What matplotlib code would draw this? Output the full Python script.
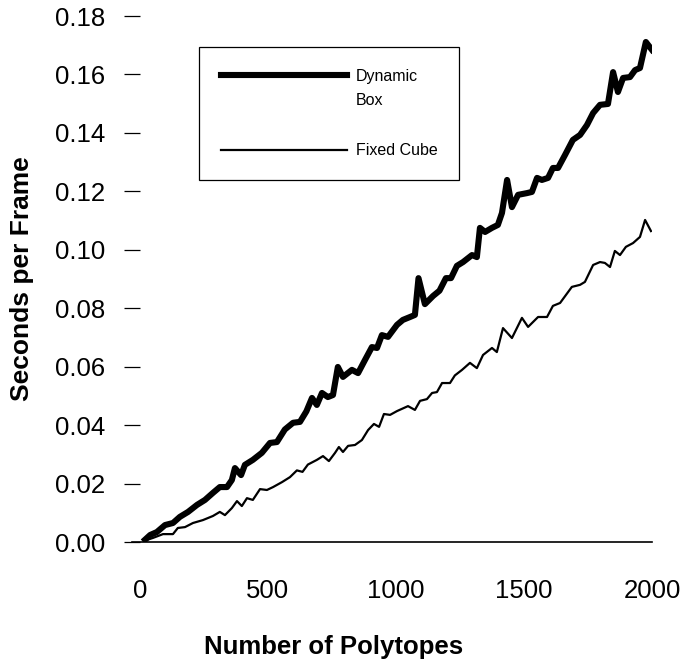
import numpy as np
import matplotlib
matplotlib.use("Agg")
import matplotlib.pyplot as plt
from matplotlib.lines import Line2D

plt.rcParams['font.family'] = ['Liberation Sans', 'DejaVu Sans']

# Dynamic Box timings (seconds per frame)
dynamic_n = [20, 40, 66, 98, 129, 156, 188, 223, 254, 285, 312, 340, 359, 371, 395,
             410, 441, 476, 508, 535, 566, 598, 625, 650, 672, 691, 711, 734, 754,
             773, 793, 828, 852, 879, 906, 926, 945, 969, 1004, 1027, 1055, 1074,
             1088, 1113, 1145, 1170, 1195, 1215, 1238, 1262, 1297, 1316, 1328, 1348,
             1375, 1398, 1414, 1434, 1453, 1477, 1512, 1531, 1551, 1570, 1594, 1613,
             1633, 1660, 1691, 1719, 1746, 1770, 1797, 1828, 1848, 1867, 1887, 1914,
             1934, 1953, 1976, 2000]
dynamic_t = [0.0008, 0.0024, 0.0034, 0.0058, 0.0065, 0.0086, 0.0103, 0.0127, 0.0144,
             0.0168, 0.0188, 0.0188, 0.0212, 0.0253, 0.0229, 0.0264, 0.0281, 0.0305,
             0.0339, 0.0342, 0.0385, 0.0408, 0.0411, 0.0447, 0.0493, 0.0469, 0.0510,
             0.0496, 0.0503, 0.0599, 0.0565, 0.0589, 0.0578, 0.0623, 0.0667, 0.0664,
             0.0708, 0.0702, 0.0743, 0.0760, 0.0770, 0.0777, 0.0903, 0.0814, 0.0842,
             0.0860, 0.0903, 0.0903, 0.0945, 0.0958, 0.0982, 0.0975, 0.1075, 0.1061,
             0.1075, 0.1085, 0.1126, 0.1239, 0.1146, 0.1188, 0.1194, 0.1198, 0.1246,
             0.1239, 0.1246, 0.1280, 0.1280, 0.1324, 0.1376, 0.1393, 0.1427, 0.1468,
             0.1496, 0.1499, 0.1608, 0.1540, 0.1588, 0.1591, 0.1615, 0.1622, 0.1711,
             0.1684]

# Fixed Cube timings
fixed_n = [20, 51, 90, 129, 148, 176, 207, 246, 285, 312, 332, 359, 379, 398, 418,
           441, 469, 496, 520, 555, 586, 613, 635, 656, 691, 715, 738, 762, 777, 793,
           813, 840, 867, 891, 914, 934, 953, 977, 1004, 1047, 1074, 1094, 1121, 1141,
           1160, 1180, 1211, 1230, 1258, 1289, 1316, 1340, 1375, 1394, 1418, 1453,
           1492, 1516, 1555, 1590, 1613, 1641, 1687, 1719, 1738, 1770, 1797, 1816,
           1836, 1855, 1875, 1898, 1926, 1953, 1973, 1996]
fixed_t = [0.0005, 0.0014, 0.0027, 0.0027, 0.0048, 0.0051, 0.0065, 0.0075, 0.0089,
           0.0103, 0.0092, 0.0116, 0.0140, 0.0123, 0.0150, 0.0144, 0.0181, 0.0178,
           0.0188, 0.0205, 0.0222, 0.0245, 0.0240, 0.0265, 0.0281, 0.0294, 0.0277,
           0.0305, 0.0325, 0.0308, 0.0329, 0.0332, 0.0349, 0.0383, 0.0404, 0.0394,
           0.0438, 0.0435, 0.0448, 0.0465, 0.0452, 0.0483, 0.0489, 0.0510, 0.0513,
           0.0544, 0.0544, 0.0570, 0.0589, 0.0613, 0.0595, 0.0640, 0.0664, 0.0650,
           0.0732, 0.0698, 0.0767, 0.0736, 0.0770, 0.0770, 0.0808, 0.0818, 0.0873,
           0.0880, 0.0890, 0.0948, 0.0958, 0.0955, 0.0941, 0.0996, 0.0982, 0.1010,
           0.1023, 0.1044, 0.1102, 0.1064]

x_ticks = [0, 500, 1000, 1500, 2000]
y_ticks = [0.00, 0.02, 0.04, 0.06, 0.08, 0.10, 0.12, 0.14, 0.16, 0.18]

W, H = 690, 662
fig = plt.figure(figsize=(W / 100, H / 100), dpi=100)
ax = fig.add_axes([132 / W, 1 - 542 / H, (652 - 132) / W, (542 - 16) / H])

ax.plot(dynamic_n, dynamic_t, color='black', lw=4.4)
ax.plot(fixed_n, fixed_t, color='black', lw=1.6)

ax.set_xlim(-31, 2000)
ax.set_ylim(0, 0.18)
ax.set_xticks(x_ticks)
ax.set_yticks(y_ticks)
ax.set_yticklabels(['%.2f' % v for v in y_ticks])

for side in ['top', 'right', 'left']:
    ax.spines[side].set_visible(False)
ax.spines['bottom'].set_linewidth(1.2)
ax.spines['bottom'].set_zorder(1)

ax.tick_params(axis='y', direction='inout', length=11, width=0.9, pad=13.5,
               labelsize=18.5)
ax.tick_params(axis='x', length=0, pad=27, labelsize=18.5)

ax.set_xlabel('Number of Polytopes', fontsize=18.5, fontweight='bold')
ax.xaxis.set_label_coords(0.388, -0.176)
ax.set_ylabel('Seconds per Frame', fontsize=19, fontweight='bold')
ax.yaxis.set_label_coords(-0.188, 0.5)

handles = [Line2D([], [], color='black', lw=4.4),
           Line2D([], [], color='none'),
           Line2D([], [], color='none'),
           Line2D([], [], color='black', lw=1.6)]
labels = ['Dynamic', 'Box', ' ', 'Fixed Cube']
leg = ax.legend(handles, labels, loc='upper left',
                bbox_to_anchor=(199 / W, 1 - 47 / H), bbox_transform=fig.transFigure,
                fontsize=11.5, handlelength=7.9, handletextpad=0.55,
                labelspacing=0.62, borderpad=1.35, borderaxespad=0, fancybox=False,
                frameon=True, framealpha=1)
leg.get_frame().set_edgecolor('black')
leg.get_frame().set_linewidth(0.9)

fig.savefig('out.png', dpi=100)
